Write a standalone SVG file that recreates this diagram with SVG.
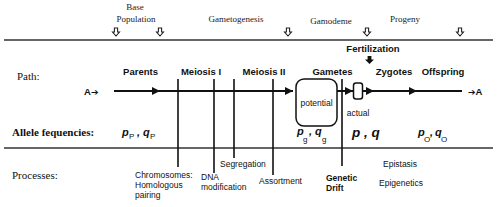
<svg xmlns="http://www.w3.org/2000/svg" width="500" height="207" viewBox="0 0 500 207">
<style>
.top{font-family:"Liberation Serif",serif;font-size:9px;fill:#222}
.lab{font-family:"Liberation Sans",Arial,sans-serif;font-size:9.5px;font-weight:bold;fill:#111}
.arr{font-family:"DejaVu Sans",sans-serif;font-weight:bold}
.sec{font-family:"Liberation Serif",serif;font-size:11px;fill:#111}
.proc{font-family:"Liberation Sans",Arial,sans-serif;font-size:8.5px;fill:#111}
.freq{font-family:"Liberation Sans",Arial,sans-serif;font-weight:bold;font-style:italic;fill:#111}
.sub{font-family:"Liberation Sans",Arial,sans-serif;font-size:8px;fill:#111}
.rule{stroke:#333;stroke-width:1.3;fill:none}
.main{stroke:#111;stroke-width:2;fill:none}
.vl{stroke:#111;stroke-width:1.6;fill:none}
.box{stroke:#111;stroke-width:1.5;fill:#fff}
</style>
<defs>
<marker id="ah" viewBox="0 0 10 10" refX="10" refY="5" markerWidth="4.2" markerHeight="4.2" orient="auto" markerUnits="strokeWidth">
<path d="M0,0 L10,5 L0,10 Z" fill="#111"/>
</marker>
<path id="hollow" d="M-1.6,-4 H1.6 V0 H3.5 L0,4 L-3.5,0 H-1.6 Z" fill="#fff" stroke="#222" stroke-width="1.1"/>
</defs>

<g id="header">
<text class="top" x="135" y="10" text-anchor="middle">Base</text>
<text class="top" x="136" y="22" text-anchor="middle">Population</text>
<text class="top" x="236" y="22" text-anchor="middle">Gametogenesis</text>
<text class="top" x="331" y="24" text-anchor="middle">Gamodeme</text>
<text class="top" x="405" y="22" text-anchor="middle">Progeny</text>
<use href="#hollow" x="116" y="32"/>
<use href="#hollow" x="160" y="32"/>
<use href="#hollow" x="288" y="32"/>
<use href="#hollow" x="367" y="32"/>
<use href="#hollow" x="460" y="32"/>
</g>

<g id="rules">
<line class="rule" x1="4" y1="40" x2="493" y2="40"/>
<line class="rule" x1="4" y1="148" x2="493" y2="148"/>
</g>

<g id="fertilization">
<text class="lab" x="373" y="52" text-anchor="middle" font-size="10">Fertilization</text>
<path d="M367.6,56 H371.4 V59.5 H374 L369.5,64 L365,59.5 H367.6 Z" fill="#111"/>
</g>

<g id="labels">
<text class="sec" x="17" y="80">Path:</text>
<text class="lab" x="140.5" y="75" text-anchor="middle">Parents</text>
<text class="lab" x="201" y="75" text-anchor="middle">Meiosis I</text>
<text class="lab" x="264" y="75" text-anchor="middle">Meiosis II</text>
<text class="lab" x="332.5" y="75" text-anchor="middle">Gametes</text>
<text class="lab" x="394" y="75" text-anchor="middle">Zygotes</text>
<text class="lab" x="443" y="75" text-anchor="middle">Offspring</text>
<text class="lab" x="84" y="95" font-size="11">A<tspan class="arr" font-size="9">➔</tspan></text>
<text class="lab" x="468" y="95" font-size="11"><tspan class="arr" font-size="9">➔</tspan>A</text>
</g>

<g id="connectors">
<line class="main" x1="114" y1="91" x2="160" y2="91" marker-end="url(#ah)"/>
<line class="main" x1="158" y1="91" x2="293" y2="91" marker-end="url(#ah)"/>
<line class="main" x1="337" y1="91" x2="353" y2="91" marker-end="url(#ah)"/>
<line class="main" x1="363" y1="91" x2="374" y2="91" marker-end="url(#ah)"/>
<line class="main" x1="372" y1="91" x2="417" y2="91" marker-end="url(#ah)"/>
<line class="main" x1="415" y1="91" x2="462" y2="91"/>
<line class="vl" x1="178" y1="79" x2="178" y2="167"/>
<line class="vl" x1="214" y1="79" x2="214" y2="173"/>
<line class="vl" x1="234" y1="79" x2="234" y2="158"/>
<line class="vl" x1="273" y1="79" x2="273" y2="175"/>
<line class="vl" x1="342" y1="79" x2="342" y2="166"/>
</g>

<g id="gametes-potential">
<rect class="box" x="296" y="79" width="41" height="47" rx="8"/>
<text class="proc" x="316.5" y="106" text-anchor="middle">potential</text>
</g>
<g id="gametes-actual">
<rect class="box" x="353.5" y="83" width="9" height="16" rx="2.5"/>
<text class="proc" x="358" y="116" text-anchor="middle">actual</text>
</g>

<g id="alleles">
<text class="sec" x="12" y="136" font-weight="bold" font-size="12">Allele fequencies:</text>
<text class="freq" x="122" y="136" font-size="11">p</text><text class="sub" x="129" y="139">P</text>
<text class="freq" x="137" y="136" font-size="11">,</text>
<text class="freq" x="143" y="136" font-size="11">q</text><text class="sub" x="150" y="139">P</text>
<text class="freq" x="297" y="135" font-size="11">p</text><text class="sub" x="303" y="142">g</text>
<text class="freq" x="309" y="135" font-size="11">,</text>
<text class="freq" x="315" y="135" font-size="11">q</text><text class="sub" x="322" y="142">g</text>
<text class="freq" x="352" y="137" font-size="13.5">p , q</text>
<text class="freq" x="418" y="136" font-size="11">p</text><text class="sub" x="424" y="142">O</text>
<text class="freq" x="430" y="136" font-size="11">,</text>
<text class="freq" x="435" y="136" font-size="11">q</text><text class="sub" x="441" y="142">O</text>
</g>

<g id="processes">
<text class="sec" x="12" y="179">Processes:</text>
<text class="proc" x="135" y="178">Chromosomes:</text>
<text class="proc" x="135" y="188">Homologous</text>
<text class="proc" x="135" y="198">pairing</text>
<text class="proc" x="201" y="180">DNA</text>
<text class="proc" x="201" y="190">modification</text>
<text class="proc" x="220" y="167">Segregation</text>
<text class="proc" x="259" y="184">Assortment</text>
<text class="proc" x="326" y="181" font-weight="bold">Genetic</text>
<text class="proc" x="326" y="191" font-weight="bold">Drift</text>
<text class="proc" x="383" y="167">Epistasis</text>
<text class="proc" x="379" y="186">Epigenetics</text>
</g>
</svg>
